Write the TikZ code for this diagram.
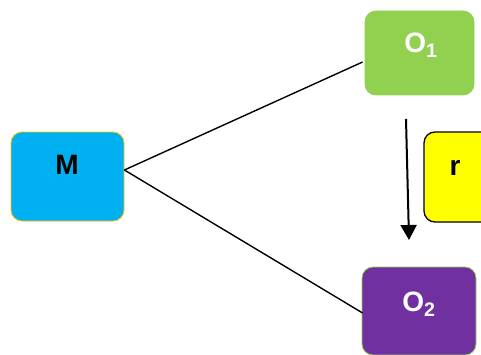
\documentclass[tikz,border=0pt]{standalone}
\usepackage{fontspec}
\setmainfont{Liberation Sans}
\usetikzlibrary{arrows.meta}
\definecolor{mblue}{RGB}{0,176,240}
\definecolor{mgold}{RGB}{255,192,0}
\definecolor{ogreen}{RGB}{146,208,80}
\definecolor{opurple}{RGB}{112,48,160}
\definecolor{ryellow}{RGB}{255,255,0}
\tikzset{
  box/.style={rounded corners=11pt, minimum width=#1, inner sep=0pt, line width=0.8pt},
  lbl/.style={anchor=base, font=\fontsize{28}{30}\selectfont\bfseries, inner sep=0pt},
  conn/.style={line width=1.4pt, black},
}
\begin{document}
\begin{tikzpicture}[x=1pt,y=1pt]
\useasboundingbox (0,0) rectangle (481,354);
\clip (0,0) rectangle (481,354);
\node[box=113pt, minimum height=89pt, fill=mblue, draw=mgold] (mbox) at (67.5,177.5) {};
\node[box=109pt, minimum height=84pt, fill=ogreen, draw=ogreen] (obox1) at (419.5,301) {};
\node[box=114pt, minimum height=88pt, fill=opurple, draw=ogreen] (obox2) at (419,43) {};
\node[box=112pt, minimum height=90pt, fill=ryellow, draw=black, line width=1.3pt] (rbox) at (480,177) {};
\node[lbl] (mtext) at (67,180) {M};
\node[lbl, white] (otext1) at (421,301) {O\textsubscript{1}};
\node[lbl, white] (otext2) at (419,43) {O\textsubscript{2}};
\node[lbl] (rtext) at (455,179) {r};
\coordinate (atop) at (406,235);
\coordinate (abot) at (409,114);
\draw[line width=2pt, -{Triangle[width=16pt,length=15pt]}] (atop) -- (abot);
\draw[conn] ([yshift=6.5pt]mbox.east) -- ([xshift=-2pt,yshift=-9pt]obox1.west);
\draw[conn] ([yshift=6.5pt]mbox.east) -- ([xshift=1pt,yshift=-2pt]obox2.west);
\end{tikzpicture}
\end{document}
